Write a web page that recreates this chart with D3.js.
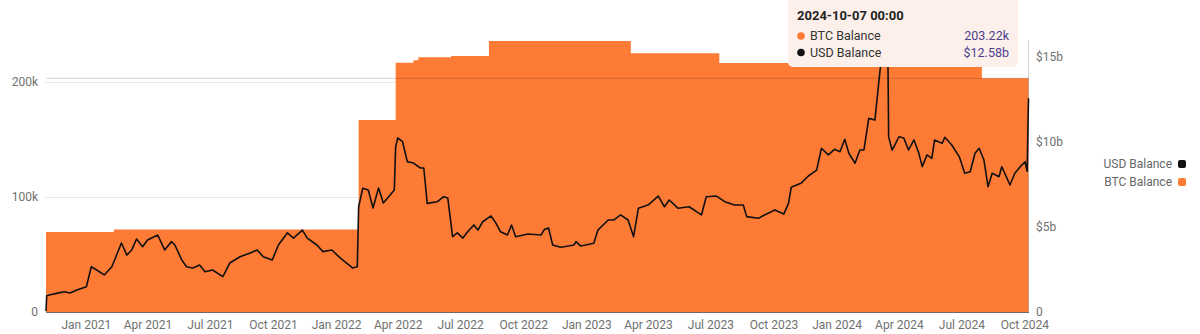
<!DOCTYPE html>
<html>
<head>
<meta charset="utf-8">
<script src="https://cdn.jsdelivr.net/npm/d3@7"></script>
<style>
	body { margin: 0; background: #fff; }
	svg { display: block; font-family: "Roboto", "Noto Sans", sans-serif; }
</style>
</head>
<body>
<svg id="chart" width="1200" height="334"></svg>
<script>
// BTC balance (thousands), step changes
var btcBalance = [
	["2020-11-04", 69.5], ["2021-02-11", 71.7], ["2022-02-03", 167], ["2022-03-29", 216.8],
	["2022-04-24", 219], ["2022-05-01", 221.4], ["2022-06-18", 222.6], ["2022-08-12", 235.6],
	["2023-03-07", 225], ["2023-07-14", 216.5], ["2024-07-31", 203.22], ["2024-10-07", 203.22]
];

// USD balance (billions)
var usdBalance = [
	["2020-11-04", 0.05], ["2020-11-05", 0.95], ["2020-11-09", 1.00], ["2020-11-24", 1.14],
	["2020-12-01", 1.19], ["2020-12-09", 1.12], ["2020-12-19", 1.29], ["2021-01-02", 1.49],
	["2021-01-09", 2.66], ["2021-01-17", 2.47], ["2021-01-28", 2.18], ["2021-02-08", 2.66],
	["2021-02-15", 3.35], ["2021-02-22", 4.06], ["2021-03-02", 3.35], ["2021-03-09", 3.65],
	["2021-03-16", 4.29], ["2021-03-25", 3.84], ["2021-04-01", 4.24], ["2021-04-16", 4.53],
	["2021-04-26", 3.65], ["2021-05-06", 4.14], ["2021-05-11", 3.94], ["2021-05-21", 3.06],
	["2021-05-28", 2.66], ["2021-06-06", 2.59], ["2021-06-16", 2.76], ["2021-06-24", 2.37],
	["2021-07-05", 2.47], ["2021-07-20", 2.08], ["2021-07-30", 2.88], ["2021-08-14", 3.25],
	["2021-08-29", 3.47], ["2021-09-08", 3.65], ["2021-09-17", 3.25], ["2021-09-30", 3.06],
	["2021-10-09", 3.94], ["2021-10-22", 4.65], ["2021-10-31", 4.35], ["2021-11-13", 4.82],
	["2021-11-20", 4.35], ["2021-12-04", 3.94], ["2021-12-13", 3.55], ["2021-12-26", 3.65],
	["2022-01-07", 3.18], ["2022-01-25", 2.59], ["2022-02-01", 2.66], ["2022-02-03", 6.19],
	["2022-02-09", 7.28], ["2022-02-17", 7.18], ["2022-02-24", 6.12], ["2022-03-04", 7.29],
	["2022-03-11", 6.41], ["2022-03-21", 6.88], ["2022-03-27", 7.18], ["2022-03-29", 9.72],
	["2022-04-01", 10.24], ["2022-04-08", 10.02], ["2022-04-15", 8.84], ["2022-04-24", 8.76],
	["2022-05-04", 8.47], ["2022-05-09", 8.47], ["2022-05-14", 6.39], ["2022-05-29", 6.49],
	["2022-06-07", 6.78], ["2022-06-13", 6.71], ["2022-06-20", 4.43], ["2022-06-27", 4.65],
	["2022-07-05", 4.35], ["2022-07-12", 4.72], ["2022-07-21", 5.12], ["2022-07-27", 4.82],
	["2022-08-03", 5.31], ["2022-08-15", 5.65], ["2022-08-22", 5.24], ["2022-08-29", 4.72],
	["2022-09-08", 4.53], ["2022-09-14", 5.12], ["2022-09-20", 4.43], ["2022-10-08", 4.59],
	["2022-10-27", 4.53], ["2022-11-01", 4.86], ["2022-11-07", 4.94], ["2022-11-13", 3.94],
	["2022-11-25", 3.81], ["2022-12-14", 3.94], ["2022-12-17", 4.14], ["2022-12-24", 3.88],
	["2023-01-12", 4.04], ["2023-01-18", 4.82], ["2023-02-02", 5.41], ["2023-02-10", 5.41],
	["2023-02-20", 5.71], ["2023-03-03", 5.41], ["2023-03-11", 4.43], ["2023-03-18", 6.10],
	["2023-04-01", 6.29], ["2023-04-16", 6.82], ["2023-04-25", 6.19], ["2023-05-02", 6.59],
	["2023-05-15", 6.10], ["2023-05-31", 6.19], ["2023-06-18", 5.71], ["2023-06-25", 6.78],
	["2023-07-10", 6.82], ["2023-07-22", 6.49], ["2023-08-05", 6.29], ["2023-08-18", 6.29],
	["2023-08-23", 5.61], ["2023-09-09", 5.51], ["2023-09-18", 5.71], ["2023-10-03", 6.00],
	["2023-10-16", 5.76], ["2023-10-23", 6.39], ["2023-10-27", 7.34], ["2023-11-10", 7.57],
	["2023-11-21", 8.00], ["2023-12-03", 8.35], ["2023-12-10", 9.63], ["2023-12-20", 9.24],
	["2023-12-29", 9.57], ["2024-01-06", 9.43], ["2024-01-13", 10.16], ["2024-01-19", 9.34],
	["2024-01-28", 8.75], ["2024-02-04", 9.53], ["2024-02-10", 9.53], ["2024-02-17", 11.39],
	["2024-02-26", 11.29], ["2024-03-03", 13.65], ["2024-03-05", 14.40], ["2024-03-10", 15.70],
	["2024-03-13", 15.00], ["2024-03-16", 14.80], ["2024-03-17", 10.30], ["2024-03-22", 9.53],
	["2024-03-26", 9.82], ["2024-04-01", 10.31], ["2024-04-08", 10.24], ["2024-04-15", 9.53],
	["2024-04-23", 10.12], ["2024-04-30", 9.34], ["2024-05-05", 8.55], ["2024-05-12", 9.24],
	["2024-05-19", 9.04], ["2024-05-23", 10.12], ["2024-06-03", 9.92], ["2024-06-07", 10.28],
	["2024-06-17", 9.82], ["2024-06-28", 9.14], ["2024-07-06", 8.16], ["2024-07-14", 8.25],
	["2024-07-21", 9.34], ["2024-07-27", 9.63], ["2024-08-03", 8.94], ["2024-08-09", 7.37],
	["2024-08-15", 8.16], ["2024-08-25", 7.96], ["2024-08-29", 8.55], ["2024-09-10", 7.47],
	["2024-09-17", 8.16], ["2024-09-25", 8.55], ["2024-10-02", 8.84], ["2024-10-05", 8.28],
	["2024-10-07", 12.58]
];

var xTickDates = [
	"2021-01-01", "2021-04-01", "2021-07-01", "2021-10-01", "2022-01-01", "2022-04-01",
	"2022-07-01", "2022-10-01", "2023-01-01", "2023-04-01", "2023-07-01", "2023-10-01",
	"2024-01-01", "2024-04-01", "2024-07-01", "2024-10-01"
];
var btcTicks = [0, 100, 200];
var usdTicks = [0, 5, 10, 15];

var orange = "#fe7b36";

function drawChart() {
	var svg = d3.select("#chart");
	var parse = d3.timeParse("%Y-%m-%d");

	var btc = btcBalance.map(function (d) { return {date: parse(d[0]), v: d[1]}; });
	var usd = usdBalance.map(function (d) { return {date: parse(d[0]), v: d[1]}; });
	var last = btc.length - 1;

	var x = d3.scaleTime()
		.domain([btc[0].date, btc[last].date])
		.range([46, 1028.5]);
	var yBtc = d3.scaleLinear().domain([0, 236.5]).range([312, 40]);
	var yUsd = d3.scaleLinear().domain([0, 16]).range([312, 40]);

	// gridlines behind the area
	svg.append("g").selectAll("line")
		.data(btcTicks.slice(1))
		.enter().append("line")
		.attr("x1", 45).attr("x2", 1029)
		.attr("y1", function (d) { return yBtc(d) + 0.5; })
		.attr("y2", function (d) { return yBtc(d) + 0.5; })
		.attr("stroke", "#e8e8e8");

	var area = d3.area()
		.curve(d3.curveStepAfter)
		.x(function (d) { return x(d.date); })
		.y0(yBtc(0))
		.y1(function (d) { return yBtc(d.v); });

	svg.append("path")
		.datum(btc)
		.attr("d", area)
		.attr("fill", orange);

	svg.append("line")
		.attr("x1", 46).attr("x2", 1029)
		.attr("y1", 312.5).attr("y2", 312.5)
		.attr("stroke", "#3a2a20")
		.attr("stroke-opacity", 0.7);

	var line = d3.line()
		.x(function (d) { return x(d.date); })
		.y(function (d) { return yUsd(d.v); });

	svg.append("path")
		.datum(usd)
		.attr("d", line)
		.attr("fill", "none")
		.attr("stroke", "#111")
		.attr("stroke-width", 1.6)
		.attr("stroke-linejoin", "round");

	// hover crosshair on the last point
	var hx = x(btc[last].date);
	var hy = yBtc(btc[last].v);
	svg.append("line")
		.attr("x1", 46).attr("x2", 1029)
		.attr("y1", hy).attr("y2", hy)
		.attr("stroke", "#000").attr("stroke-opacity", 0.18);
	svg.append("line")
		.attr("x1", hx).attr("x2", hx)
		.attr("y1", 40).attr("y2", 312)
		.attr("stroke", "#000").attr("stroke-opacity", 0.18);

	// axes
	var gLeft = svg.append("g")
		.attr("transform", "translate(41,0)")
		.call(d3.axisLeft(yBtc).tickValues(btcTicks).tickSize(0).tickPadding(3)
			.tickFormat(function (d) { return d === 0 ? "0" : d + "k"; }));
	var gRight = svg.append("g")
		.attr("transform", "translate(1033,0)")
		.call(d3.axisRight(yUsd).tickValues(usdTicks).tickSize(0).tickPadding(3)
			.tickFormat(function (d) { return d === 0 ? "0" : "$" + d + "b"; }));
	var gBottom = svg.append("g")
		.attr("transform", "translate(0,312)")
		.call(d3.axisBottom(x).tickValues(xTickDates.map(parse)).tickSize(0).tickPadding(8.5)
			.tickFormat(d3.timeFormat("%b %Y")));

	[gLeft, gRight, gBottom].forEach(function (g) {
		g.select(".domain").remove();
		g.selectAll("text")
			.attr("fill", "#707070")
			.style("font-size", "12px")
			.style("font-family", "Roboto, sans-serif");
	});

	// legend
	var legend = [["USD Balance", "#111"], ["BTC Balance", orange]];
	var lg = svg.append("g").selectAll("g")
		.data(legend)
		.enter().append("g")
		.attr("transform", function (d, i) { return "translate(0," + (164 + i * 18) + ")"; });
	lg.append("text")
		.attr("x", 1172).attr("dy", "0.35em")
		.attr("text-anchor", "end")
		.attr("fill", "#666")
		.style("font-size", "12px")
		.text(function (d) { return d[0]; });
	lg.append("rect")
		.attr("x", 1178).attr("y", -4)
		.attr("width", 8).attr("height", 8)
		.attr("rx", 2)
		.attr("fill", function (d) { return d[1]; });

	// tooltip
	var tip = svg.append("g");
	tip.append("rect")
		.attr("x", 788).attr("y", -6)
		.attr("width", 230).attr("height", 73)
		.attr("rx", 5)
		.attr("fill", "#fdf0eb");
	tip.append("text")
		.attr("x", 797).attr("y", 15).attr("dy", "0.35em")
		.attr("fill", "#222")
		.style("font-size", "13px")
		.style("font-weight", "bold")
		.text(d3.timeFormat("%Y-%m-%d %H:%M")(btc[last].date));

	var rows = [
		["BTC Balance", orange, d3.format(".2f")(btc[last].v) + "k"],
		["USD Balance", "#111", "$" + d3.format(".2f")(usd[usd.length - 1].v) + "b"]
	];
	var tr = tip.selectAll("g.row")
		.data(rows)
		.enter().append("g")
		.attr("class", "row")
		.attr("transform", function (d, i) { return "translate(0," + (36 + i * 16.5) + ")"; });
	tr.append("circle")
		.attr("cx", 801).attr("cy", 0).attr("r", 3.8)
		.attr("fill", function (d) { return d[1]; });
	tr.append("text")
		.attr("x", 810).attr("dy", "0.35em")
		.attr("fill", "#333")
		.style("font-size", "12.5px")
		.text(function (d) { return d[0]; });
	tr.append("text")
		.attr("x", 1009).attr("dy", "0.35em")
		.attr("text-anchor", "end")
		.attr("fill", "#4b3f8e")
		.style("font-size", "12.5px")
		.text(function (d) { return d[2]; });
}

drawChart();
</script>
</body>
</html>
